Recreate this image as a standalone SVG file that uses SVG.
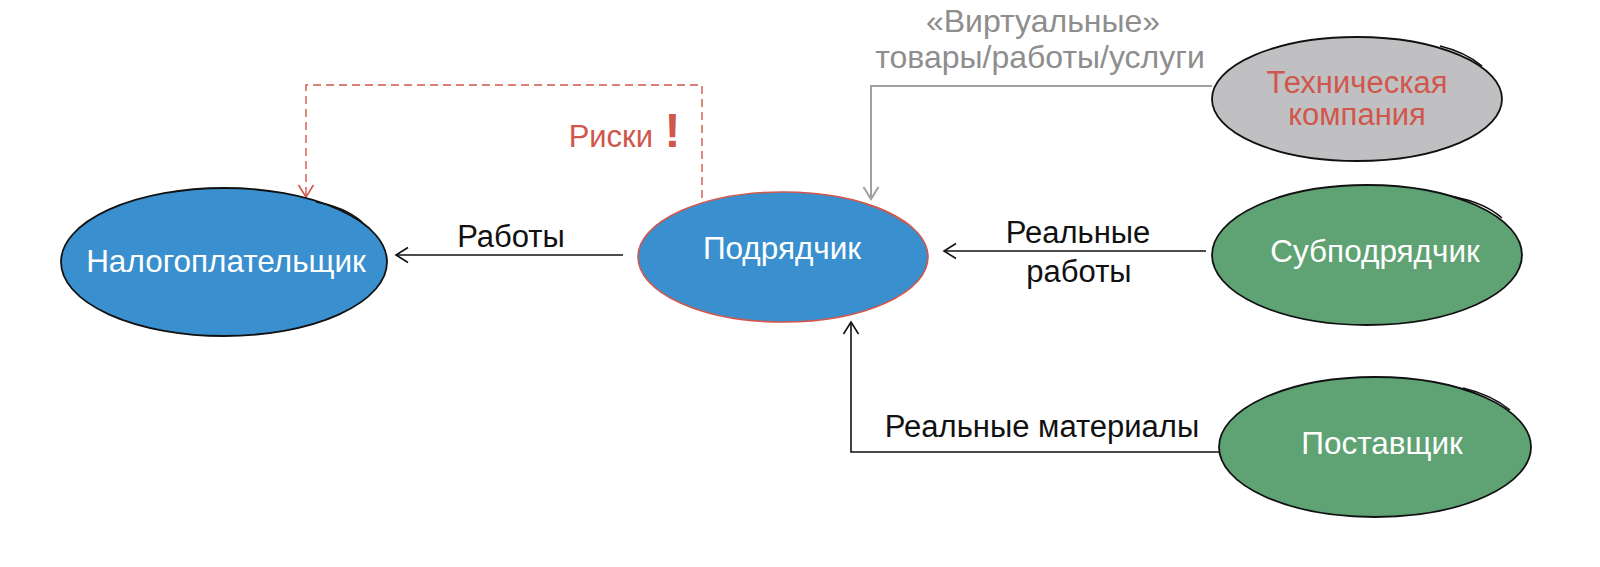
<svg xmlns="http://www.w3.org/2000/svg" width="1600" height="567" viewBox="0 0 1600 567">
<defs>
<style>
.lbl{font-family:"Liberation Sans",Arial,sans-serif;font-size:31px;}
.node-text{fill:#ffffff;text-anchor:middle;font-size:31.5px;}
.edge-text{fill:#111111;}
.gray-text{fill:#8e8e8e;text-anchor:middle;font-size:32px;}
.red-text{fill:#d0574c;}
.outline{stroke:#111111;stroke-width:1.8;}
.sketch{fill:none;stroke:#111111;stroke-width:1.6;}
.conn{fill:none;stroke:#111111;stroke-width:1.6;}
</style>
<marker id="arrBlack" markerUnits="userSpaceOnUse" markerWidth="16" markerHeight="18" refX="13" refY="9" orient="auto">
<path d="M1,1.5 L13,9 L1,16.5" fill="none" stroke="#111111" stroke-width="1.6"/>
</marker>
<marker id="arrGray" markerUnits="userSpaceOnUse" markerWidth="16" markerHeight="18" refX="13" refY="9" orient="auto">
<path d="M1,1.5 L13,9 L1,16.5" fill="none" stroke="#a0a0a0" stroke-width="2"/>
</marker>
<marker id="arrRed" markerUnits="userSpaceOnUse" markerWidth="16" markerHeight="18" refX="13" refY="9" orient="auto">
<path d="M1,1.5 L13,9 L1,16.5" fill="none" stroke="#d0574c" stroke-width="1.6" stroke-dasharray="none"/>
</marker>
</defs>
<rect width="1600" height="567" fill="#ffffff"/>

<g id="connectors">
<path class="conn" d="M623,255 H396" marker-end="url(#arrBlack)"/>
<path class="conn" d="M1206,251 H944" marker-end="url(#arrBlack)"/>
<path class="conn" d="M1220,452 H851 V322" marker-end="url(#arrBlack)"/>
<path d="M1212,86 H871 V199" fill="none" stroke="#a0a0a0" stroke-width="2" marker-end="url(#arrGray)"/>
<path d="M702,198 V85 H306 V197" fill="none" stroke="#d0574c" stroke-width="1.4" stroke-dasharray="8,5" marker-end="url(#arrRed)"/>
</g>

<g id="edge-labels">
<text class="lbl edge-text" x="511" y="247" text-anchor="middle">Работы</text>
<text class="lbl edge-text" x="1078" y="243" text-anchor="middle">Реальные</text>
<text class="lbl edge-text" x="1079" y="282" text-anchor="middle">работы</text>
<text class="lbl edge-text" x="1042" y="437" text-anchor="middle">Реальные материалы</text>
<text class="lbl gray-text" x="1043" y="32">«Виртуальные»</text>
<text class="lbl gray-text" x="1040" y="68">товары/работы/услуги</text>
<g id="risk-label">
<text class="lbl red-text" x="653" y="147" text-anchor="end">Риски</text>
<text x="672.5" y="147" text-anchor="middle" fill="#d0574c" font-family="Liberation Sans, Arial, sans-serif" font-size="48" font-weight="bold">!</text>
</g>
</g>

<g id="node-nalogoplatelshchik">
<ellipse cx="224" cy="262" rx="163" ry="74" fill="#3a8fce" class="outline"/>
<path class="sketch" d="M316,202 Q345,207 362,222"/>
<text class="lbl node-text" x="226" y="272">Налогоплательщик</text>
</g>

<g id="node-podryadchik">
<ellipse cx="783" cy="257" rx="145" ry="65" fill="#3a8fce" stroke="#d0574c" stroke-width="1.6"/>
<path d="M866,204 Q888,210 905,223" fill="none" stroke="#d0574c" stroke-width="1.4"/>
<text class="lbl node-text" x="782" y="259">Подрядчик</text>
</g>

<g id="node-tech">
<ellipse cx="1357" cy="99" rx="145" ry="62" fill="#c0c0c2" class="outline"/>
<path class="sketch" d="M1440,46 Q1465,52 1482,66"/>
<text class="lbl red-text" x="1357" y="93" text-anchor="middle">Техническая</text>
<text class="lbl red-text" x="1357" y="125" text-anchor="middle">компания</text>
</g>

<g id="node-subpodryadchik">
<ellipse cx="1367" cy="255" rx="155" ry="70" fill="#5fa273" class="outline"/>
<path class="sketch" d="M1455,197 Q1485,203 1502,218"/>
<text class="lbl node-text" x="1375" y="262">Субподрядчик</text>
</g>

<g id="node-postavshchik">
<ellipse cx="1375" cy="447" rx="156" ry="70" fill="#5fa273" class="outline"/>
<path class="sketch" d="M1463,388 Q1492,395 1510,410"/>
<text class="lbl node-text" x="1382" y="454">Поставщик</text>
</g>
</svg>
